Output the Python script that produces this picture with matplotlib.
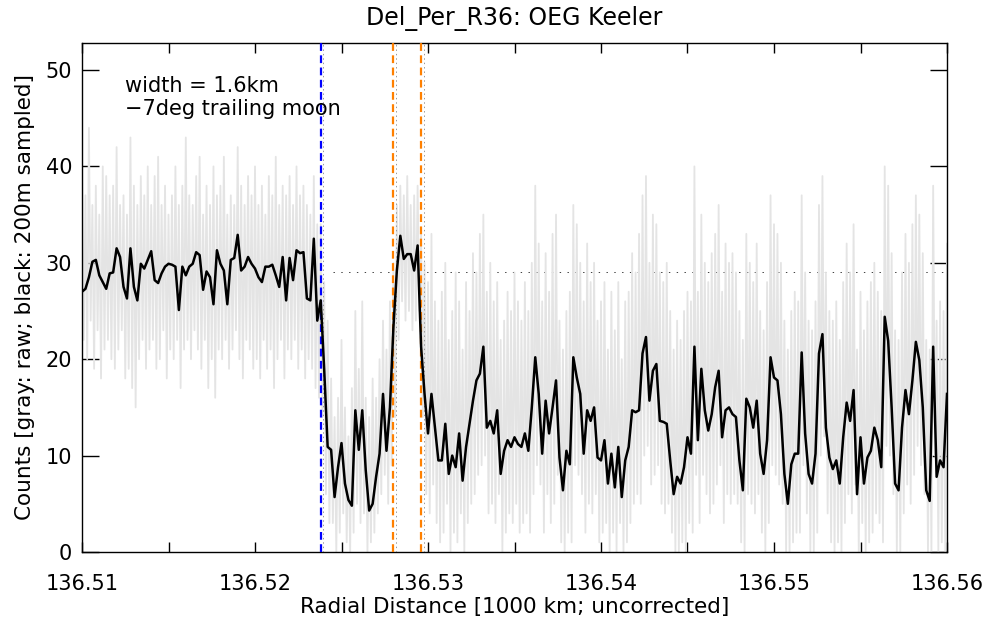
import numpy as np
import matplotlib
matplotlib.use('Agg')
import matplotlib.pyplot as plt
from matplotlib.ticker import MultipleLocator, FormatStrFormatter

# 200 m sampled profile (black), 136.51 .. 136.56 (1000 km)
x_start, x_end = 136.51, 136.56
black = [
    27.0, 27.3, 28.5, 30.1, 30.3, 28.7, 28.0, 27.3, 28.9, 29.0,
    31.5, 30.6, 27.5, 26.3, 31.5, 27.5, 26.1, 29.9, 29.4, 30.3,
    31.2, 28.2, 27.9, 28.9, 29.6, 29.9, 29.8, 29.6, 25.1, 29.6,
    28.7, 29.6, 29.9, 31.1, 30.8, 27.2, 29.1, 28.5, 25.7, 31.3,
    29.9, 29.2, 25.7, 30.3, 30.5, 32.9, 29.2, 29.6, 30.6, 29.9,
    29.4, 28.5, 28.0, 29.6, 29.6, 29.8, 28.7, 27.5, 30.6, 26.1,
    30.5, 28.2, 31.3, 31.0, 31.1, 26.3, 26.1, 32.5, 24.0, 26.1,
    18.9, 10.9, 10.6, 5.7, 8.8, 11.3, 7.1, 5.4, 4.8, 14.7,
    10.6, 14.7, 8.5, 4.3, 5.0, 7.8, 10.2, 16.4, 10.5, 15.0,
    23.3, 29.2, 32.8, 30.4, 30.9, 30.9, 29.2, 31.8, 21.3, 16.4,
    12.3, 16.4, 12.9, 9.5, 9.5, 13.3, 8.1, 10.0, 8.8, 12.3,
    7.4, 10.9, 13.3, 15.7, 17.8, 18.5, 21.3, 12.9, 13.6, 12.3,
    14.7, 8.1, 10.5, 11.6, 10.9, 11.9, 11.2, 10.9, 12.3, 10.5,
    15.0, 20.2, 16.4, 10.2, 15.7, 12.3, 15.0, 17.8, 9.8, 6.4,
    10.5, 9.1, 20.2, 18.1, 16.4, 10.2, 14.7, 13.6, 15.0, 9.8,
    9.5, 11.6, 7.1, 10.2, 6.7, 10.9, 5.7, 9.5, 10.9, 14.7,
    14.5, 14.7, 20.6, 22.3, 15.7, 18.8, 19.5, 13.6, 13.5, 13.3,
    9.5, 6.0, 7.8, 7.1, 8.8, 11.9, 10.2, 21.3, 11.6, 19.0,
    14.7, 12.6, 14.3, 17.1, 18.8, 11.9, 14.7, 15.0, 14.3, 14.0,
    9.5, 6.4, 15.9, 15.0, 12.9, 15.7, 10.2, 8.1, 11.6, 20.2,
    18.1, 17.8, 14.3, 8.1, 5.0, 9.1, 10.2, 10.2, 20.7, 12.3,
    8.1, 7.1, 10.2, 20.6, 22.6, 12.9, 9.8, 8.6, 9.5, 7.1,
    11.9, 15.5, 13.6, 16.8, 6.0, 11.9, 7.1, 9.8, 10.5, 12.9,
    11.6, 8.8, 24.4, 21.9, 15.0, 7.1, 6.4, 12.9, 16.8, 14.3,
    17.8, 21.8, 19.9, 15.0, 6.4, 5.3, 21.3, 7.8, 9.5, 8.8,
    16.4,
]

# raw counts (gray): high / low excursion in each 200 m bin
raw_hi = [
    40, 37, 44, 36, 38, 35, 40, 39, 37, 38,
    42, 36, 37, 35, 43, 38, 36, 39, 37, 40,
    36, 39, 41, 36, 38, 35, 37, 40, 36, 38,
    43, 37, 36, 39, 41, 35, 38, 36, 40, 37,
    38, 41, 35, 37, 36, 42, 38, 36, 39, 37,
    40, 36, 38, 35, 39, 37, 41, 36, 38, 37,
    39, 36, 40, 37, 38, 36, 35, 39, 34, 34,
    28, 24, 18, 14, 16, 22, 15, 12, 17, 25,
    19, 26, 16, 14, 18, 16, 20, 24, 21, 26,
    30, 36, 38, 37, 39, 36, 37, 38, 33, 30,
    28, 33, 26, 24, 27, 30, 22, 25, 29, 26,
    21, 28, 25, 31, 29, 33, 35, 27, 30, 26,
    28, 22, 24, 27, 25, 29, 26, 24, 28, 25,
    30, 38, 32, 26, 31, 27, 33, 35, 24, 21,
    25, 27, 36, 34, 30, 26, 32, 28, 30, 24,
    26, 28, 21, 27, 23, 28, 20, 26, 27, 31,
    29, 33, 37, 39, 30, 35, 34, 29, 28, 30,
    25, 21, 24, 22, 25, 27, 26, 40, 27, 35,
    30, 28, 31, 33, 36, 27, 32, 30, 31, 29,
    25, 22, 33, 30, 28, 32, 25, 23, 28, 37,
    34, 33, 30, 24, 21, 25, 27, 26, 37, 29,
    24, 23, 26, 36, 39, 29, 25, 24, 26, 22,
    28, 32, 29, 34, 21, 27, 23, 26, 28, 30,
    27, 25, 40, 38, 31, 23, 22, 29, 33, 30,
    34, 37, 35, 31, 22, 21, 38, 24, 26, 25,
    32,
]
raw_lo = [
    22, 20, 24, 19, 23, 18, 21, 22, 20, 19,
    21, 23, 18, 19, 17, 15, 20, 22, 19, 21,
    22, 19, 20, 23, 18, 21, 20, 22, 17, 21,
    22, 20, 23, 21, 19, 22, 17, 20, 16, 21,
    20, 22, 19, 21, 23, 20, 18, 22, 21, 19,
    20, 18, 22, 19, 21, 17, 20, 22, 18, 21,
    20, 22, 19, 21, 18, 20, 19, 17, 16, 14,
    6, 3, 3, 0, 2, 4, 1, 0, 2, 5,
    3, 4, 0, 1, 2, 4, 6, 8, 5, 9,
    14, 22, 26, 24, 25, 23, 24, 25, 14, 6,
    4, 7, 3, 1, 2, 5, 0, 2, 1, 4,
    0, 3, 5, 6, 8, 9, 10, 4, 5, 3,
    6, 0, 2, 4, 3, 5, 2, 3, 4, 2,
    6, 9, 7, 2, 6, 3, 5, 8, 1, 0,
    2, 1, 9, 8, 6, 2, 5, 4, 6, 1,
    2, 3, 0, 2, 0, 3, 0, 1, 3, 5,
    6, 5, 10, 11, 7, 8, 9, 5, 4, 5,
    2, 0, 0, 1, 0, 3, 2, 8, 3, 8,
    6, 4, 5, 7, 9, 3, 6, 5, 6, 5,
    1, 0, 6, 5, 4, 6, 2, 0, 3, 9,
    8, 7, 5, 0, 0, 1, 2, 2, 9, 4,
    0, 0, 2, 10, 12, 4, 1, 0, 1, 0,
    3, 6, 4, 7, 0, 3, 0, 1, 2, 4,
    3, 1, 11, 10, 6, 0, 0, 4, 7, 5,
    8, 11, 9, 6, 0, 0, 10, 0, 1, 0,
    6,
]

edge_blue = 136.5238
edges_orange = [136.5280, 136.5296]
mean_level = 29.0
mean_from = 136.5245
note_lines = ['width = 1.6km', '\u22127deg trailing moon']

x = np.linspace(x_start, x_end, len(black))
step = x[1] - x[0]

fig = plt.figure(figsize=(9.87, 6.2), dpi=100)
ax = fig.add_axes([82/987, 68/620, 865/987, 509/620])

# dotted reference level (sits under the raw data)
ax.plot([mean_from, x_end], [mean_level, mean_level], color='#444444', lw=0.72,
        linestyle=(0, (1.4, 6.4)), zorder=1)

# raw data as a zig-zag between bin extremes
xr = np.column_stack([x, x + step/2]).ravel()
yr = np.column_stack([raw_hi, raw_lo]).ravel()
ax.plot(xr, yr, color='#e4e4e4', lw=1.3, zorder=2)

# edge markers
ax.axvline(edge_blue, color='#0000ff', lw=1.6, linestyle=(0, (3.5, 2)), zorder=3)
for xe in edges_orange:
    ax.axvline(xe, color='#ff8000', lw=1.6, linestyle=(0, (3.5, 2)), zorder=3)
for xe in [edge_blue] + edges_orange:
    ax.axvline(xe + 0.00014, color='#999999', lw=0.72,
               linestyle=(0, (1.4, 3.0)), zorder=3)

ax.plot(x, black, color='black', lw=1.8, zorder=4)

ax.set_xlim(x_start, x_end)
ax.set_ylim(0, 52.8)
ax.xaxis.set_major_locator(MultipleLocator(0.01))
ax.xaxis.set_minor_locator(MultipleLocator(0.005))
ax.xaxis.set_major_formatter(FormatStrFormatter('%.2f'))
ax.yaxis.set_major_locator(MultipleLocator(10))
ax.tick_params(axis='x', which='both', direction='in', top=True, length=7,
               width=1, labelsize=15, pad=16)
ax.tick_params(axis='y', which='major', direction='in', right=True, length=12,
               width=1, labelsize=15, pad=7)
for sp in ax.spines.values():
    sp.set_linewidth(1)

ax.set_title('Del_Per_R36: OEG Keeler', fontsize=17, pad=13)
ax.set_xlabel('Radial Distance [1000 km; uncorrected]', fontsize=15.5, labelpad=2)
ax.set_ylabel('Counts [gray: raw; black: 200m sampled]', fontsize=15.5, labelpad=8)

ax.text(0.05, 0.935, '\n'.join(note_lines), transform=ax.transAxes, fontsize=15,
        va='top', ha='left', linespacing=1.2)

fig.savefig('out.png', dpi=100)
